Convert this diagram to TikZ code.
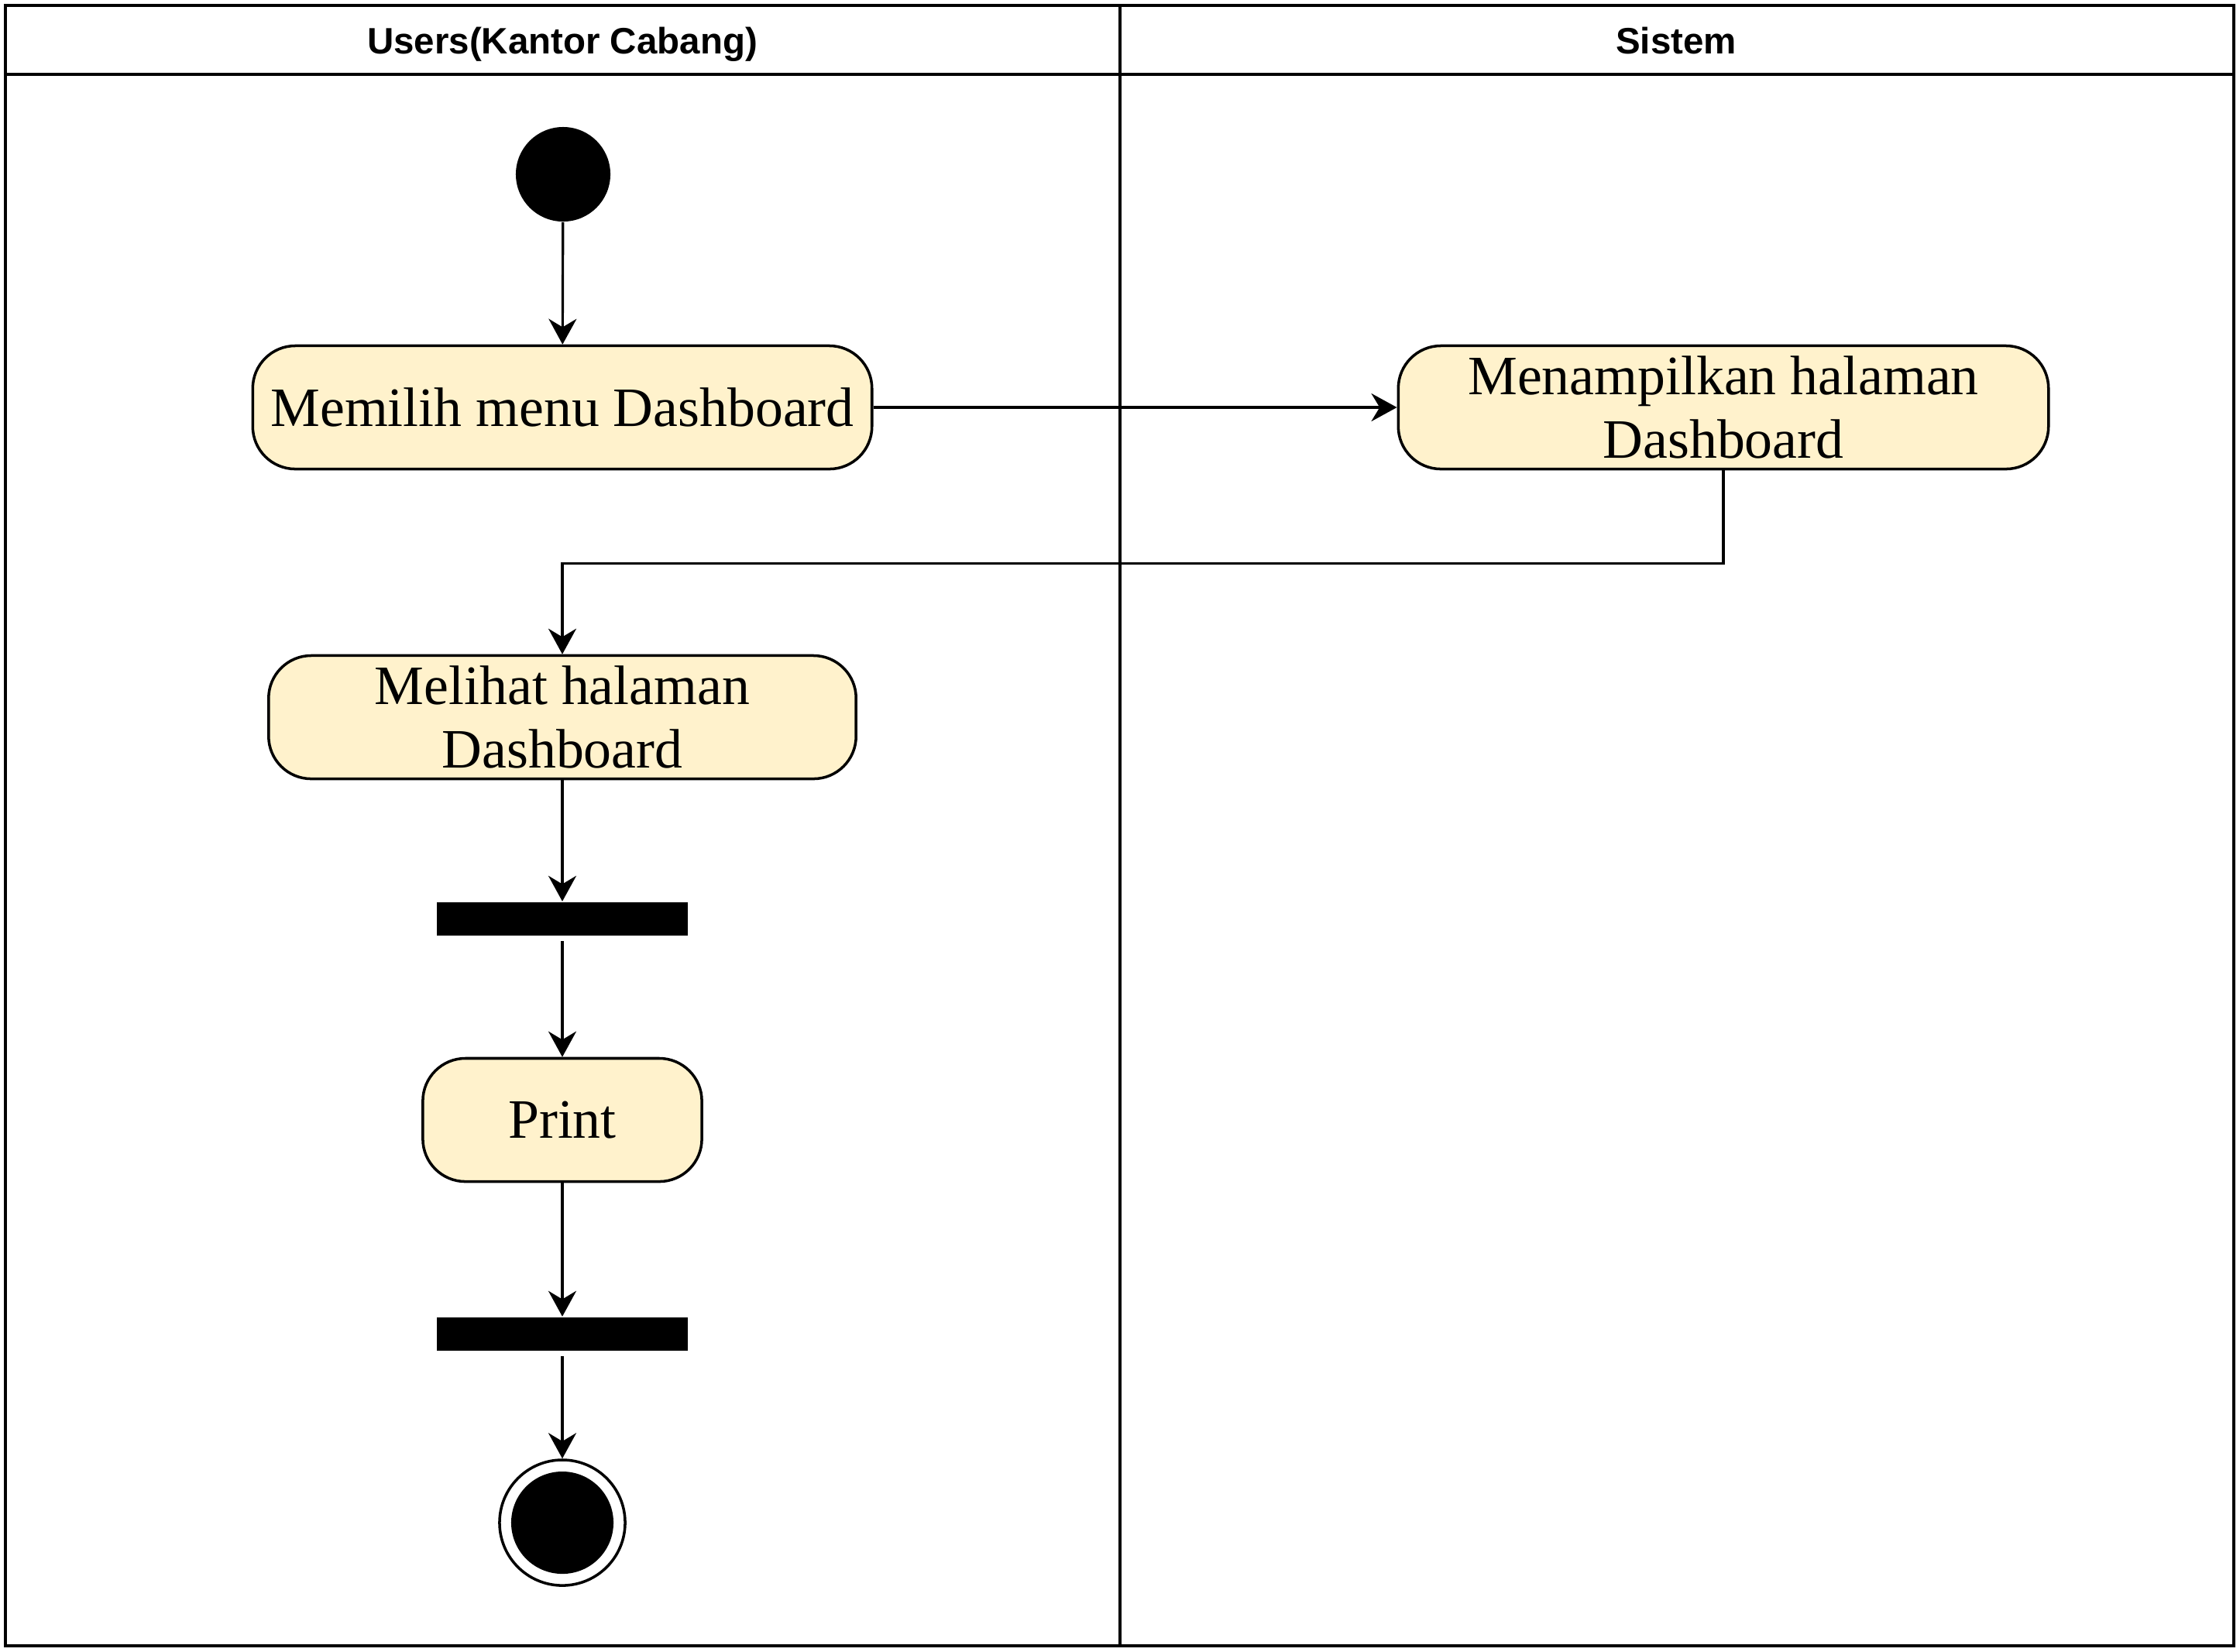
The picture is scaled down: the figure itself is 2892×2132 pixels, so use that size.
\documentclass[tikz,border=0pt]{standalone}
\usepackage{fontspec}
\setmainfont{Liberation Serif}
\setsansfont{Liberation Sans}
\usetikzlibrary{arrows.meta,positioning}
\definecolor{actfill}{HTML}{FFF2CC}
\tikzset{
  act/.style={draw,line width=1pt,fill=actfill,rounded corners=0.55cm,minimum height=1.59cm,
    font=\fontsize{20.4}{23.5}\selectfont,align=center,inner sep=0pt},
  forkbar/.style={fill=black,minimum width=3.24cm,minimum height=0.43cm,inner sep=0pt},
  flow/.style={line width=0.9pt,-{Stealth[length=3.3mm,width=3.6mm]}},
  lane/.style={line width=1.1pt},
  lanehead/.style={anchor=base,font=\fontsize{13.5}{16}\selectfont\sffamily\bfseries}
}

\begin{document}
\begin{tikzpicture}[x=0.01cm,y=-0.01cm]
\useasboundingbox (0,0) rectangle (2892,2132);
% swimlanes
\draw[lane] (7,7) rectangle (2884,2125);
\draw[lane] (7,96) -- (2884,96);
\draw[lane] (1446,7) -- (1446,2125);
\node[lanehead] (hUser) at (726,69) {Users(Kantor Cabang)};
\node[lanehead] (hSys) at (2164,69) {Sistem};

% activities
\node[circle,fill=black,minimum size=1.22cm,inner sep=0pt] (start) at (727,225) {};
\node[act,minimum width=7.99cm] (pilih) at (726,526) {Memilih menu Dashboard};
\node[act,minimum width=8.39cm] (tampil) at (2225,526) {Menampilkan halaman\\Dashboard};
\node[act,minimum width=7.58cm] (lihat) at (726,926) {Melihat halaman\\Dashboard};
\node[forkbar] (bar1) at (726,1186) {};
\node[act,minimum width=3.6cm] (print) at (726,1446) {Print};
\node[forkbar] (bar2) at (726,1722) {};
\node[circle,draw,line width=1pt,minimum size=1.62cm,inner sep=0pt] (end) at (726,1966) {};
\node[circle,fill=black,minimum size=1.32cm,inner sep=0pt] (endin) at (end) {};

% flows
\draw[flow] (start) -- (pilih);
\draw[flow] (pilih) -- (tampil);
\draw[flow] (tampil.south) -- ++(0,120) -| (lihat.north);
\draw[flow] (lihat) -- (bar1);
\draw[flow,shorten <=2pt] (bar1) -- (print);
\draw[flow] (print) -- (bar2);
\draw[flow,shorten <=2pt] (bar2) -- (end);
\end{tikzpicture}
\end{document}
